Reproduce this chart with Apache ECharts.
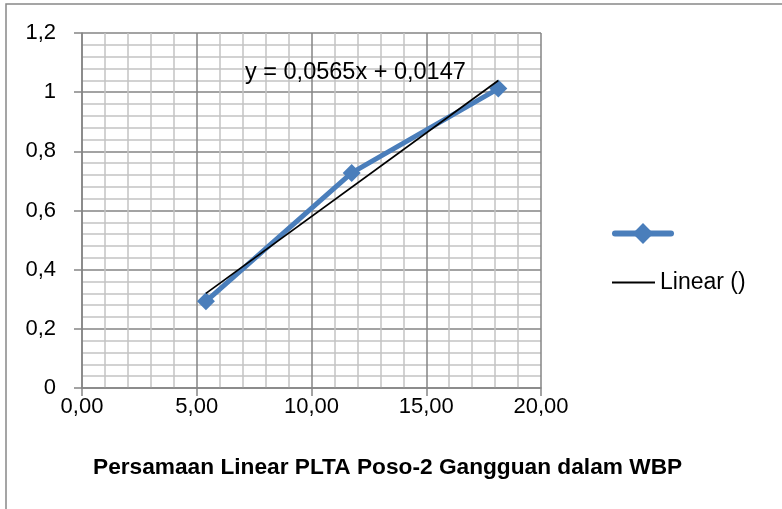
<!DOCTYPE html>
<html>
<head>
<meta charset="utf-8">
<script src="https://cdn.jsdelivr.net/npm/echarts@6/dist/echarts.min.js"></script>
<style>
  html, body { margin: 0; padding: 0; background: #fff; }
  #chart { width: 782px; height: 509px; }
</style>
</head>
<body>
<div id="chart"></div>
<script>
// Measured points: fault current (x) vs. result (y)
const xValues = [5.40, 11.75, 18.14];
const yValues = [0.293, 0.727, 1.012];
// Linear trend coefficients as printed on the chart
const trendSlope = 0.0565;
const trendIntercept = 0.0147;
const seriesName = ' ';
const trendName = 'Linear ()';
const titleText = 'Persamaan Linear PLTA Poso-2 Gangguan dalam WBP';
const equationText = 'y = 0,0565x + 0,0147';

const FONT = 'Liberation Sans';
const points = xValues.map((x, i) => [x, yValues[i]]);
const xMin = Math.min(...xValues), xMax = Math.max(...xValues);
const trend = [xMin, xMax].map(x => [x, trendSlope * x + trendIntercept]);

const chart = echarts.init(document.getElementById('chart'), null, { renderer: 'canvas' });
const major = '#858585', minor = '#c3c3c3';
const blue = '#4a7ebb';

function axisCommon() {
  return {
    axisLine: { show: true, onZero: false, lineStyle: { color: major, width: 1.5 } },
    axisTick: { show: true, length: 8, lineStyle: { color: major, width: 1.5 } },
    minorTick: { show: false, splitNumber: 5 },
    splitLine: { show: true, lineStyle: { color: major, width: 1.5 } },
    minorSplitLine: { show: true, lineStyle: { color: minor, width: 1.5 } }
  };
}

chart.setOption({
  animation: false,
  backgroundColor: '#fff',
  grid: { left: 82, top: 33, width: 459, height: 355 },
  xAxis: Object.assign({
    type: 'value', min: 0, max: 20, interval: 5,
    axisLabel: {
      color: '#000', fontFamily: FONT, fontSize: 22, margin: 8,
      formatter: v => v.toFixed(2).replace('.', ',')
    }
  }, axisCommon()),
  yAxis: Object.assign({
    type: 'value', min: 0, max: 1.2, interval: 0.2,
    axisLabel: {
      color: '#000', fontFamily: FONT, fontSize: 22, margin: 26,
      formatter: v => String(Math.round(v * 10) / 10).replace('.', ',')
    }
  }, axisCommon()),
  legend: [
    {
      orient: 'vertical', left: 612, top: 222, padding: 0,
      data: [seriesName], itemWidth: 56, itemHeight: 26,
      lineStyle: { width: 6, color: blue, cap: 'round' },
      itemStyle: { color: blue },
      textStyle: { fontFamily: FONT, fontSize: 23, color: '#000' }
    },
    {
      orient: 'vertical', left: 612, top: 271, padding: 0,
      data: [{ name: trendName, icon: 'rect' }], itemWidth: 43, itemHeight: 2,
      itemStyle: { color: '#000' },
      textStyle: { fontFamily: FONT, fontSize: 23, color: '#000' }
    }
  ],
  series: [
    {
      name: seriesName, type: 'line', data: points,
      symbol: 'diamond', symbolSize: 18, showSymbol: true,
      lineStyle: { color: blue, width: 5 },
      itemStyle: { color: blue }, z: 3
    },
    {
      name: trendName, type: 'line', data: trend,
      symbol: 'none', lineStyle: { color: '#000', width: 1.75 },
      itemStyle: { color: '#000' }, z: 4
    }
  ],
  graphic: [
    {
      type: 'rect', silent: true, z: 100,
      shape: { x: 6, y: 4, width: 900, height: 700 },
      style: { fill: 'none', stroke: '#888', lineWidth: 1.5 }
    },
    {
      type: 'text', left: 245, top: 61, z: 100,
      style: { text: equationText, font: '23.5px ' + FONT, fill: '#000' }
    },
    {
      type: 'text', left: 93, top: 456, z: 100,
      style: { text: titleText, font: 'bold 22.7px ' + FONT, fill: '#000' }
    }
  ]
});
</script>
</body>
</html>
